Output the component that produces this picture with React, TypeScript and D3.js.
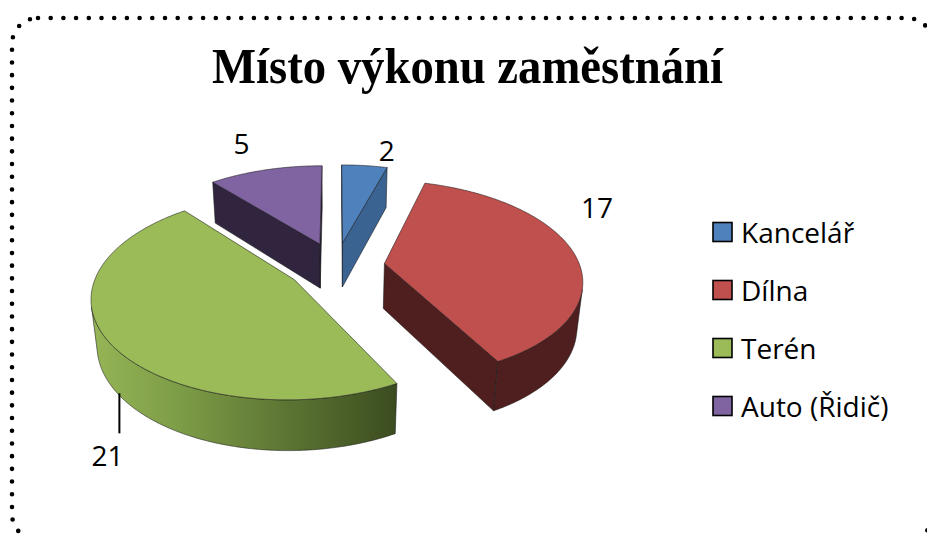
import React from "react";
import * as d3 from "d3";

const title = "Místo výkonu zaměstnání";
const categories = ["Kancelář", "Dílna", "Terén", "Auto (Řidič)"];
const values = [2, 17, 21, 5];

const topColors = ["#4F81BD", "#C0504D", "#9BBB59", "#8064A2"];
const wallColors = ["#3A6392", "#4E1F1E", "#3C4D20", "#30243F"];
const rimColors = ["#3A6392", "#4E1F1E", "url(#rimTeren)", "#30243F"];
// where excel put the data labels: angle shift (deg) from mid angle, radius, or a drop leader
const labelPlace = [
  { shift: 5, r: 1.26, leader: 0 },
  { shift: -22, r: 1.39, leader: 0 },
  { shift: -3, r: 1, leader: 40 },
  { shift: -1, r: 1.44, leader: 0 },
];

const W = 927,
  H = 535;

// 3d view of the pie (unit radius in plane)
const cx = 336,
  cy = 266,
  K = 195.5;
const tilt = Math.asin(0.4946);
const dist = 5.61;
const depth = 0.272;
const explode = 0.25;
const sinT = Math.sin(tilt),
  cosT = Math.cos(tilt);
const camY = -dist * cosT;

function project(x: number, y: number, z: number): [number, number] {
  const v = y * sinT + z * cosT;
  const w = y * cosT - z * sinT;
  const sc = dist / (dist + w);
  return [cx + K * x * sc, cy - K * v * sc];
}

const line = d3.line();
const poly = (pts: [number, number][]) => line(pts) + "Z";

function buildSlices() {
  const arcs = d3
    .pie<number>()
    .sort(null)
    .value((d) => d)(values);

  return arcs.map((a, i) => {
    const a0 = a.startAngle,
      a1 = a.endAngle,
      m = (a0 + a1) / 2;
    const ox = explode * Math.sin(m),
      oy = explode * Math.cos(m);
    const rim = (t: number, z: number) =>
      project(ox + Math.sin(t), oy + Math.cos(t), z);
    const apex = (z: number) => project(ox, oy, z);

    const n = Math.max(6, Math.ceil((a1 - a0) / (Math.PI / 360)));
    const angles = d3.range(n + 1).map((k) => a0 + ((a1 - a0) * k) / n);

    const faces: { d: string; fill: string }[] = [];

    // side walls at the cut edges
    const facing = (nx: number, ny: number, px: number, py: number) =>
      nx * (0 - px) + ny * (camY - py) > 0;

    const s0 = [-Math.cos(a0), Math.sin(a0)];
    if (facing(s0[0], s0[1], ox + 0.5 * Math.sin(a0), oy + 0.5 * Math.cos(a0))) {
      faces.push({
        d: poly([apex(0), rim(a0, 0), rim(a0, -depth), apex(-depth)]),
        fill: wallColors[i],
      });
    }
    const s1 = [Math.cos(a1), -Math.sin(a1)];
    if (facing(s1[0], s1[1], ox + 0.5 * Math.sin(a1), oy + 0.5 * Math.cos(a1))) {
      faces.push({
        d: poly([apex(0), rim(a1, 0), rim(a1, -depth), apex(-depth)]),
        fill: wallColors[i],
      });
    }

    // outer curved rim
    const vis = angles.filter((t) =>
      facing(Math.sin(t), Math.cos(t), ox + Math.sin(t), oy + Math.cos(t))
    );
    if (vis.length > 1) {
      const topPts = vis.map((t) => rim(t, 0));
      const botPts = vis.map((t) => rim(t, -depth)).reverse();
      faces.push({ d: poly([...topPts, ...botPts]), fill: rimColors[i] });
    }

    // top face
    faces.push({
      d: poly([apex(0), ...angles.map((t) => rim(t, 0))]),
      fill: topColors[i],
    });

    // label
    const lp = labelPlace[i];
    const lm = m + (lp.shift * Math.PI) / 180;
    let label;
    if (lp.leader) {
      const p0 = project(
        ox + Math.sin(lm),
        oy + Math.cos(lm),
        -depth * 0.95
      );
      label = {
        x: p0[0] - 12,
        y: p0[1] + lp.leader + 22,
        line: [p0, [p0[0], p0[1] + lp.leader]] as [number, number][],
      };
    } else {
      const p = project(ox + lp.r * Math.sin(lm), oy + lp.r * Math.cos(lm), 0);
      label = { x: p[0], y: p[1], line: null };
    }

    return { i, order: Math.cos(m), faces, label, value: values[i] };
  });
}

export default function App() {
  const slices = buildSlices();
  const drawOrder = [...slices].sort((a, b) => b.order - a.order);
  const legendY = d3.scaleLinear().domain([0, 3]).range([232, 406]);

  return (
    <svg
      width={W}
      height={H}
      style={{ position: "absolute", left: 0, top: 0, background: "#fff" }}
    >
      <defs>
        <linearGradient id="rimTeren" x1="0" x2="1" y1="0" y2="0">
          <stop offset="0" stopColor="#95B556" />
          <stop offset="0.3" stopColor="#7C9B46" />
          <stop offset="1" stopColor="#3B4C1F" />
        </linearGradient>
      </defs>

      <rect
        x={12}
        y={18}
        width={921}
        height={522}
        rx={26}
        fill="none"
        stroke="#000"
        strokeWidth={4.6}
        strokeDasharray="0 12.7"
        strokeLinecap="round"
      />

      <text
        x={467.5}
        y={83}
        textAnchor="middle"
        fontFamily="'Liberation Serif', 'Times New Roman', serif"
        fontWeight="bold"
        fontSize={50}
        textLength={511}
        lengthAdjust="spacingAndGlyphs"
      >
        {title}
      </text>

      <g>
        {drawOrder.map((s) => (
          <g key={s.i}>
            {s.faces.map((f, j) => (
              <path
                key={j}
                d={f.d}
                fill={f.fill}
                stroke="#1a1a1a"
                strokeOpacity={0.7}
                strokeWidth={0.8}
                strokeLinejoin="round"
              />
            ))}
          </g>
        ))}
      </g>

      <g fontFamily="'Open Sans', 'Liberation Sans', sans-serif" fontSize={28}>
        {slices.map((s) => (
          <g key={s.i}>
            {s.label.line && (
              <path d={line(s.label.line) || ""} stroke="#000" strokeWidth={2} />
            )}
            <text
              x={s.label.x}
              y={s.label.y}
              textAnchor="middle"
              dominantBaseline="central"
              fill="#000"
            >
              {s.value}
            </text>
          </g>
        ))}
      </g>

      <g fontFamily="'Open Sans', 'Liberation Sans', sans-serif" fontSize={28}>
        {categories.map((c, i) => (
          <g key={c} transform={`translate(713, ${legendY(i)})`}>
            <rect
              x={0}
              y={-9.5}
              width={19}
              height={19}
              fill={topColors[i]}
              stroke="#000"
              strokeWidth={1.6}
            />
            <text x={28} y={0} dominantBaseline="central" fill="#000">
              {c}
            </text>
          </g>
        ))}
      </g>
    </svg>
  );
}
